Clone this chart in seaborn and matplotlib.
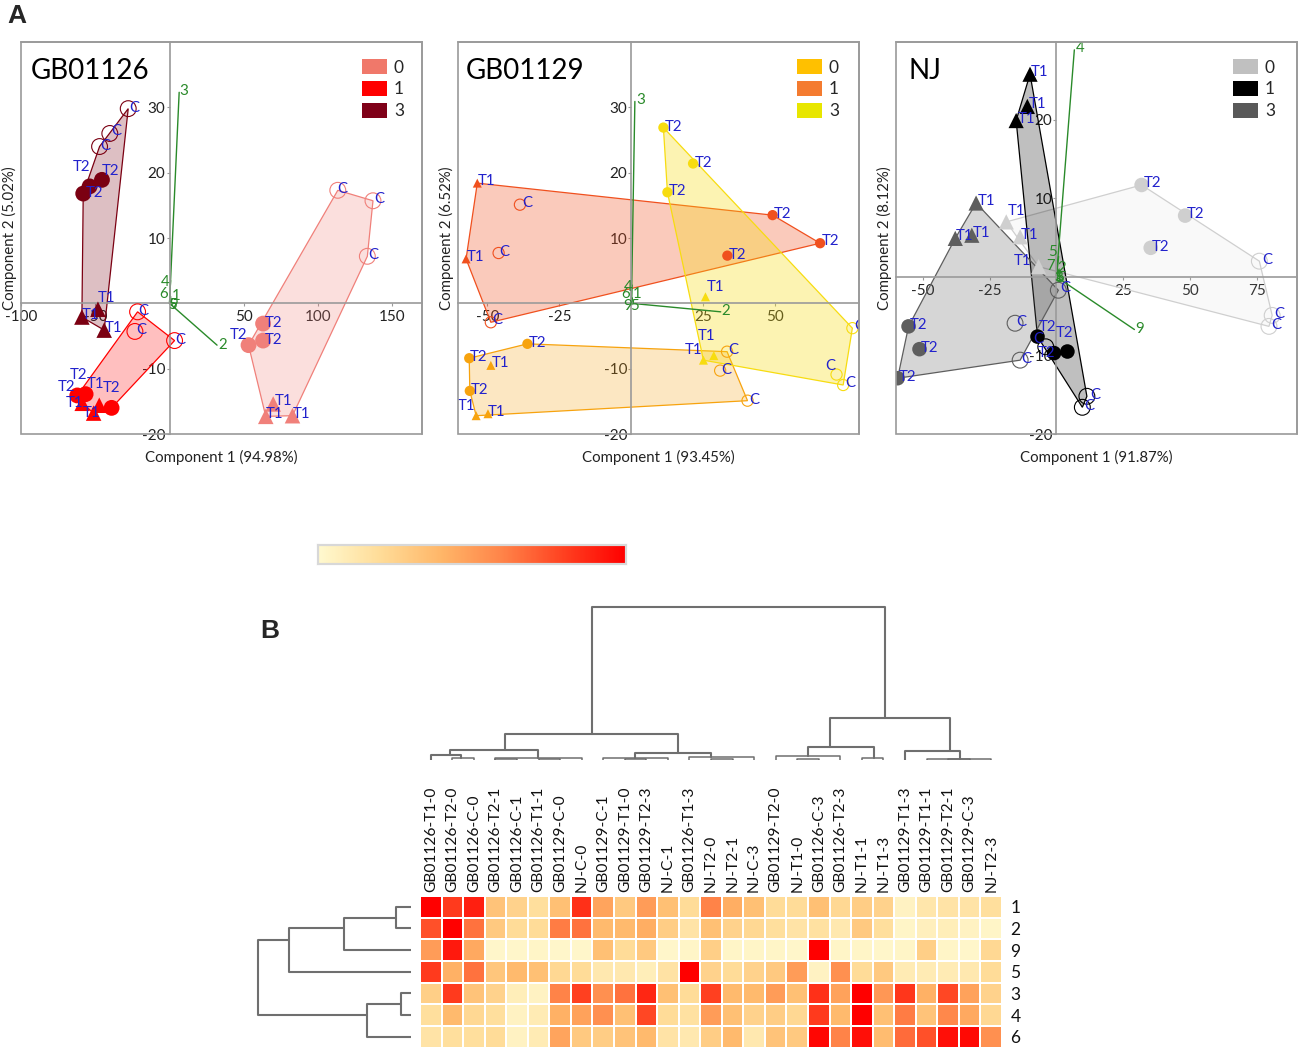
"""Redraw of the two-part figure: three PCA biplots and a clustered heatmap."""

import matplotlib

matplotlib.use("Agg")
import matplotlib.pyplot as plt
import numpy as np
import pandas as pd
import seaborn as sns
from matplotlib.colors import LinearSegmentedColormap
from matplotlib.patches import Patch, Rectangle

W, H = 1299, 1047

# PCA scores, ordered by group then C / T2 / T1
GROUP_9 = ["0"] * 9 + ["1"] * 9 + ["3"] * 9
KIND_9 = ["C"] * 3 + ["T2"] * 3 + ["T1"] * 3
KIND_3 = KIND_9 * 3

gb26_x = [113.3, 137, 133.2, 63, 63, 53.2, 69.8, 64.8, 82.8,
          -21.5, -23.3, 3.4, -62.1, -56.5, -39, -58.8, -47.3, -51.1,
          -27.8, -40.2, -47.1, -53.8, -45.5, -58.1, -48.2, -59, -44]
gb26_y = [17.3, 15.7, 7.2, -3.1, -5.7, -6.4, -15.4, -17.3, -17.2,
          -1.3, -4.3, -5.7, -14.1, -13.9, -16, -15.3, -15.6, -16.8,
          29.8, 26, 24, 17.9, 18.9, 16.8, -0.9, -2.1, -4.1]

gb29_group = ["0"] * 9 + ["1"] * 8 + ["3"] * 9
gb29_kind = KIND_9 + ["C"] * 3 + ["T2"] * 3 + ["T1"] * 2 + KIND_9
gb29_x = [33.2, 30.8, 40.3, -36.1, -56.3, -56.1, -53.9, -49.8, -48.8,
          -38.7, -46.1, -48.8, 49, 65.5, 33.3, -53.5, -57.4,
          76.7, 71.2, 73.5, 11.1, 21.4, 12.5, 25.7, 28.6, 25]
gb29_y = [-7.4, -10.3, -14.9, -6.2, -8.4, -13.4, -17.2, -16.9, -9.5,
          15.1, 7.7, -2.9, 13.5, 9.2, 7.3, 18.4, 6.8,
          -3.8, -10.9, -12.5, 26.9, 21.4, 17, 1, -8, -8.7]

nj_x = [76, 80.8, 79.6, 31.9, 48.2, 35.3, -18.8, -13.6, -6.7,
        11.4, 9.7, -4, -7.1, -0.9, 4.1, -9.9, -10.9, -15.1,
        -15.5, -13.6, 0.7, -55.4, -51.3, -59.5, -30.1, -37.9, -31.7]
nj_y = [2, -4.9, -6.3, 11.7, 7.8, 3.7, 7, 5.1, 1.3,
        -15.2, -16.6, -8.9, -7.6, -9.7, -9.5, 25.8, 21.7, 19.9,
        -5.9, -10.6, -1.7, -6.3, -9.2, -12.9, 9.4, 4.9, 5.3]

# variable loadings
gb26_load = ["3", "2", "4", "6", "1", "5", "9"]
gb26_load_x = [6.5, 32, 0.7, 0.8, 1, 2, 2]
gb26_load_y = [32.3, -6.4, 3.5, 1, 0.4, -0.3, -0.3]
gb29_load = ["3", "2", "4", "6", "1", "9", "5"]
gb29_load_x = [1.2, 31, 0.2, 0.3, 0.3, 0.1, 0.1]
gb29_load_y = [30.9, -1.3, 2.8, 0.8, 0.8, -0.2, -0.2]
nj_load = ["4", "9", "5", "7", "2", "6", "3", "1"]
nj_load_x = [6.7, 29.2, 0.8, 1, 1.2, 1, 1, 1]
nj_load_y = [28.9, -6.7, 2.6, 1, 0.8, -0.2, -0.1, 0]

# heatmap
col_labels = ["GB01126-T1-0", "GB01126-T2-0", "GB01126-C-0", "GB01126-T2-1", "GB01126-C-1",
              "GB01126-T1-1", "GB01129-C-0", "NJ-C-0", "GB01129-C-1", "GB01129-T1-0",
              "GB01129-T2-3", "NJ-C-1", "GB01126-T1-3", "NJ-T2-0", "NJ-T2-1", "NJ-C-3",
              "GB01129-T2-0", "NJ-T1-0", "GB01126-C-3", "GB01126-T2-3", "NJ-T1-1", "NJ-T1-3",
              "GB01129-T1-3", "GB01129-T1-1", "GB01129-T2-1", "GB01129-C-3", "NJ-T2-3"]
row_labels = ["1", "2", "9", "5", "3", "4", "6"]
row_1 = [1.0, .82, .9, .33, .25, .18, .35, .85, .47, .3, .5, .35, .2, .6, .43, .35, .2, .2, .35, .22, .28, .25, .05, .13, .15, .15, .18]
row_2 = [.75, 1.0, .65, .3, .2, .2, .62, .65, .38, .38, .43, .28, .15, .35, .25, .22, .18, .15, .17, .12, .3, .18, .03, .07, .08, .05, .03]
row_9 = [.5, .92, .45, .02, .02, .03, .02, .02, .35, .2, .3, .02, .03, .27, .03, .03, .03, .02, 1.0, .03, .03, .02, .03, .27, .03, .02, .22]
row_5 = [.82, .42, .65, .32, .38, .35, .22, .2, .12, .12, .08, .16, 1.0, .25, .2, .25, .3, .5, .05, .55, .2, .3, .1, .1, .1, .12, .2]
row_3 = [.27, .82, .33, .25, .08, .05, .6, .8, .55, .65, .88, .35, .2, .8, .38, .38, .5, .35, .85, .48, 1.0, .52, .83, .42, .78, .48, .25]
row_4 = [.18, .38, .22, .18, .05, .1, .42, .48, .55, .35, .78, .2, .17, .5, .35, .25, .28, .22, .82, .38, 1.0, .35, .62, .33, .58, .45, .22]
row_6 = [.15, .18, .18, .2, .05, .1, .47, .3, .28, .33, .38, .15, .12, .28, .38, .12, .33, .3, .98, .6, .95, .37, .67, .75, .95, .97, .55]

# dendrogram merges: left pos, right pos, left height, right height, top height
col_left = [7.98, 3.93, 19.04, 1.41, 0.5, 1.5, 3.5, 3.5, 5.5, 9.98, 8.5, 9.5, 12.5, 13.5, 18.02, 16.5, 17.5, 20.5, 22.5, 23.5, 24.5]
col_right = [21.55, 11.98, 24.57, 5.46, 1.91, 2.5, 7.5, 4.5, 6.5, 13.5, 11.5, 10.5, 15.5, 14.5, 21.05, 19.5, 18.5, 21.5, 25.07, 26.5, 25.5]
col_h_left = [26, 9.7, 12.7, 5.3, 0, 0, 0, 0, 0, 2, 0, 0, 0, 0, 3.7, 0, 0, 0, 0, 0, 0]
col_h_right = [41.7, 7, 9, 2, 2, 0, 0, 0, 0, 3, 0, 0, 0, 0, 2, 0, 0, 0, 1.5, 0, 0]
col_h_top = [153, 26, 41.7, 9.7, 5.3, 2, 2, 1, 1, 7, 2, 1, 3, 1.5, 12.7, 3.7, 1.5, 2, 9, 1.5, 0.7]

row_left = [0.5, 1.04, 1.5, 2.04, 4.5, 4.98]
row_right = [1.5, 2.5, 3.5, 5.5, 5.5, 6.5]
row_h_left = [0, 15, 66.7, 121.7, 0, 10]
row_h_right = [0, 0, 0, 44, 0, 0]
row_h_top = [15, 66.7, 121.7, 153, 10, 44]

# label nudges, in pixels (right, down)
gb26_dx = [5, 6, 6, 10, 10, -10, 10, 9, 9, 6, 6, 6, 1, -19, 0, -8, -4, -2, 6, 6, 6, -8, 9, 11, 9, 9, 9]
gb26_dy = [-1, -2, -1, -1, -1, -10, -3, -2, -2, -1, -1, -1, -20, -7, -20, 0, -21, 0, -1, -2, -1, -19, -9, -1, -11, -2, -2]
gb29_dx = [6, 6, 7, 10, 9, 10, -10, 9, 10, 7, 6, 6, 10, 10, 10, 9, 9, 7, -6, 7, 10, 10, 10, 10, -7, -10]
gb29_dy = [-2, -1, -1, -1, -1, -1, -10, -2, -2, -2, -1, -2, -1, -2, -1, -2, -2, -2, -9, -2, -1, -1, -1, -10, -20, -10]
nj_dx = [8, 7, 7, 11, 10, 10, 10, 9, -16, 8, 7, -7, 10, -8, -3, 10, 10, 10, 6, 6, 7, 10, 10, 10, 10, 9, 10]
nj_dy = [-1, -1, -1, -2, -2, -1, -11, -2, -6, -1, -1, -8, -10, 0, -19, -2, -2, -2, -1, -1, -2, -1, -1, -1, -2, -2, -2]
gb26_load_off = [(5, -1), (6, 0), (-5, 2), (-7, -3), (5, -5), (0, 0), (1, 0)]
gb29_load_off = [(6, -1), (5, -1), (-4, 2), (-7, -4), (5, -4), (-4, 1), (3, 1)]
nj_load_off = [(6, -2), (5, -1), (-6, -4), (-9, -3), (2, -3), (0, 0), (0, 0), (0, 0)]

BLUE = "#2222cc"
GREEN = "#2a8a2a"
AXIS_GRAY = "#9a9a9a"
LINK_GRAY = "#6f6f6f"

sns.set_theme(style="white")
plt.rcParams["font.family"] = ["Lato", "DejaVu Sans"]
plt.rcParams["axes.unicode_minus"] = False

fig = plt.figure(figsize=(W / 100, H / 100), dpi=100)


def px_axes(left, top, right, bottom):
    return fig.add_axes([left / W, 1 - bottom / H, (right - left) / W, (bottom - top) / H])


def hull(pts):
    # monotone chain, scipy is not needed for this
    pts = sorted(set(pts))

    def half(seq):
        out = []
        for p in seq:
            while len(out) > 1 and (out[-1][0] - out[-2][0]) * (p[1] - out[-2][1]) - (out[-1][1] - out[-2][1]) * (p[0] - out[-2][0]) <= 0:
                out.pop()
            out.append(p)
        return out[:-1]

    return half(pts) + half(pts[::-1])


def biplot(box, title, title_left, x, y, group, kind, dx, dy, load, load_x, load_y, load_off,
           xlim, ylim, xticks, yticks, xlabel, ylabel, colors, legend_colors, alphas, sizes, legend_x):
    ax = px_axes(*box)
    df = pd.DataFrame({"x": x, "y": y, "group": group, "kind": kind, "dx": dx, "dy": dy})

    for g, sub in df.groupby("group"):
        poly = np.array(hull(list(zip(sub["x"], sub["y"]))))
        ax.fill(poly[:, 0], poly[:, 1], facecolor=matplotlib.colors.to_rgba(colors[g], alphas[g]),
                edgecolor=colors[g], linewidth=0.9, zorder=1)

    for lx, ly in zip(load_x, load_y):
        ax.plot([0, lx], [0, ly], color=GREEN, linewidth=1, zorder=2)

    filled = df[df["kind"] != "C"]
    for k, marker in (("T2", "o"), ("T1", "^")):
        sns.scatterplot(data=filled[filled["kind"] == k], x="x", y="y", hue="group", palette=colors,
                        marker=marker, s=sizes[k], linewidth=0, legend=False, ax=ax, zorder=3)
    for g, sub in df[df["kind"] == "C"].groupby("group"):
        sns.scatterplot(data=sub, x="x", y="y", s=sizes["C"], facecolor="none", edgecolor=colors[g],
                        linewidth=0.8, legend=False, ax=ax, zorder=3)

    for row in df.itertuples():
        ax.annotate(row.kind, (row.x, row.y), xytext=(row.dx, -row.dy), textcoords="offset pixels",
                    ha="center", va="center", color=BLUE, fontsize=10.8, clip_on=True, zorder=4)
    for name, lx, ly, (ox, oy) in zip(load, load_x, load_y, load_off):
        ax.annotate(name, (lx, ly), xytext=(ox, -oy), textcoords="offset pixels",
                    ha="center", va="center", color=GREEN, fontsize=10.8, clip_on=True, zorder=4)

    ax.set_xlim(*xlim)
    ax.set_ylim(*ylim)
    ax.set_xticks(xticks)
    ax.set_yticks(yticks)
    ax.tick_params(labelsize=11, length=2, width=0.8, color=AXIS_GRAY, pad=1, labelcolor="#222222",
                   left=True, bottom=True)
    ax.tick_params(axis="x", pad=3)
    ax.spines["left"].set_position("zero")
    ax.spines["bottom"].set_position("zero")
    for side in ax.spines:
        ax.spines[side].set_color(AXIS_GRAY)
        ax.spines[side].set_linewidth(1.2)
    ax.add_patch(Rectangle((0, 0), 1, 1, transform=ax.transAxes, fill=False, edgecolor=AXIS_GRAY,
                           linewidth=1.2, clip_on=False, zorder=5))
    ax.set_xlabel(xlabel, fontsize=10.8, color="#222222")
    ax.set_ylabel(ylabel, fontsize=10.8, color="#222222")
    ax.xaxis.set_label_coords(0.5, -0.04)
    ax.yaxis.set_label_coords(-0.01, 0.5)

    ax.text(title_left, 0.925, title, transform=ax.transAxes, fontsize=20, color="black", va="center", zorder=6)
    handles = [Patch(facecolor=legend_colors[g], edgecolor="none", label=g) for g in ("0", "1", "3")]
    ax.legend(handles=handles, loc="upper right", bbox_to_anchor=(legend_x, 0.957), frameon=False, fontsize=12.5,
              handlelength=1.43, handleheight=1.0, handletextpad=0.4, labelspacing=0.3, borderaxespad=0,
              borderpad=0)
    return ax


biplot((21, 42, 422, 434), "GB01126", 0.025, gb26_x, gb26_y, GROUP_9, KIND_3, gb26_dx, gb26_dy,
       gb26_load, gb26_load_x, gb26_load_y, gb26_load_off,
       (-100, 170), (-20, 40), [-100, -50, 50, 100, 150], [-20, -10, 10, 20, 30],
       "Component 1 (94.98%)", "Component 2 (5.02%)",
       {"0": "#f0807a", "1": "#ff0000", "3": "#7b0012"},
       {"0": "#f0786a", "1": "#ff0000", "3": "#7f0018"},
       {"0": 0.25, "1": 0.25, "3": 0.25},
       {"T2": 130, "T1": 125, "C": 130}, 0.955)

biplot((458, 42, 859, 434), "GB01129", 0.02, gb29_x, gb29_y, gb29_group, gb29_kind, gb29_dx, gb29_dy,
       gb29_load, gb29_load_x, gb29_load_y, gb29_load_off,
       (-60.2, 79), (-20, 40), [-50, -25, 25, 50], [-20, -10, 10, 20, 30],
       "Component 1 (93.45%)", "Component 2 (6.52%)",
       {"0": "#f7a30e", "1": "#f0501e", "3": "#f7dc10"},
       {"0": "#ffc000", "1": "#f47b30", "3": "#e8e600"},
       {"0": 0.25, "1": 0.3, "3": 0.32},
       {"T2": 55, "T1": 42, "C": 65}, 0.95)

biplot((896, 42, 1297, 434), "NJ", 0.03, nj_x, nj_y, GROUP_9, KIND_3, nj_dx, nj_dy,
       nj_load, nj_load_x, nj_load_y, nj_load_off,
       (-60.1, 90.1), (-20, 29.9), [-50, -25, 25, 50, 75], [-20, -10, 10, 20],
       "Component 1 (91.87%)", "Component 2 (8.12%)",
       {"0": "#cfcfcf", "1": "#000000", "3": "#5e5e5e"},
       {"0": "#c0c0c0", "1": "#000000", "3": "#595959"},
       {"0": 0.12, "1": 0.25, "3": 0.25},
       {"T2": 110, "T1": 120, "C": 130}, 0.945)

fig.text(7 / W, 1 - 16 / H, "A", family="Liberation Sans", fontweight="bold", fontsize=19, va="center")
fig.text(260 / W, 1 - 631 / H, "B", family="Liberation Sans", fontweight="bold", fontsize=19, va="center")

heat_cmap = LinearSegmentedColormap.from_list(
    "heat", ["#fff9cf", "#ffdc98", "#ffb668", "#ff8348", "#ff4020", "#ff0000"])
matrix = pd.DataFrame([row_1, row_2, row_9, row_5, row_3, row_4, row_6], index=row_labels, columns=col_labels)

ax_cbar = px_axes(318, 545, 626, 564)
ax_heat = px_axes(420, 895.9, 1002, 1047.5)
sns.heatmap(matrix, cmap=heat_cmap, vmin=0, vmax=1, linewidths=1.2, linecolor="white", square=False, ax=ax_heat,
            cbar_ax=ax_cbar, cbar_kws={"orientation": "horizontal", "ticks": []})
ax_heat.xaxis.tick_top()
ax_heat.yaxis.tick_right()
ax_heat.tick_params(length=0, pad=4)
ax_heat.tick_params(axis="x", labelsize=11.2, labelrotation=90, pad=3, labelcolor="#111111")
ax_heat.tick_params(axis="y", labelsize=12.5, labelrotation=0, pad=6, labelcolor="#111111")
ax_heat.set_xlabel("")
ax_heat.set_ylabel("")
for spine in ax_cbar.spines.values():
    spine.set_visible(True)
    spine.set_color("#d8d8d8")
    spine.set_linewidth(1.5)

ax_col = px_axes(420, 598, 1002, 760)
for x1, x2, h1, h2, top in zip(col_left, col_right, col_h_left, col_h_right, col_h_top):
    ax_col.plot([x1, x1, x2, x2], [h1, top, top, h2], color=LINK_GRAY, linewidth=1.5 if top > 4 else 1.1,
                solid_capstyle="round")
ax_col.set_xlim(0, 27)
ax_col.set_ylim(0, 162)
ax_col.axis("off")

ax_row = px_axes(250, 895.9, 411, 1047.5)
for y1, y2, h1, h2, top in zip(row_left, row_right, row_h_left, row_h_right, row_h_top):
    ax_row.plot([h1, top, top, h2], [y1, y1, y2, y2], color=LINK_GRAY, linewidth=1.5, solid_capstyle="round")
ax_row.set_xlim(161, 0)
ax_row.set_ylim(7, 0)
ax_row.axis("off")

fig.savefig("out.png", dpi=100)
plt.close(fig)
